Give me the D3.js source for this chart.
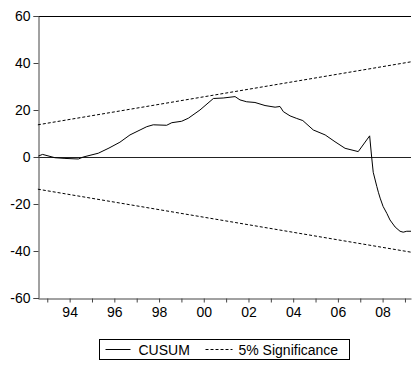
<!DOCTYPE html>
<html>
<head>
<meta charset="utf-8">
<script src="https://cdn.jsdelivr.net/npm/d3@7"></script>
<style>
  body { margin: 0; background: #fff; }
  text { font-family: "Liberation Sans", Arial, sans-serif; fill: #000; }
</style>
</head>
<body>
<svg id="chart" width="412" height="365"></svg>
<script>
// CUSUM (fractional years)
const cusumYears = [1992.60, 1992.79, 1993.34, 1993.79, 1994.39, 1994.61, 1995.28, 1995.76, 1996.25, 1996.70,
  1997.15, 1997.45, 1997.74, 1998.34, 1998.57, 1999.01, 1999.31, 1999.83, 2000.43, 2000.87,
  2001.40, 2001.62, 2001.92, 2002.29, 2002.74, 2003.19, 2003.41, 2003.56, 2003.86, 2004.16,
  2004.43, 2004.90, 2005.43, 2005.87, 2006.32, 2006.91, 2007.42, 2007.51, 2007.58, 2007.74,
  2007.81, 2007.89, 2008.02, 2008.19, 2008.33, 2008.56, 2008.78, 2008.92, 2009.08, 2009.27];
const cusumValues = [0.4, 1.1, -0.3, -0.6, -0.85, 0, 1.6, 3.8, 6.3, 9.4,
  11.5, 12.9, 13.7, 13.5, 14.6, 15.2, 16.5, 20, 24.9, 25.1,
  25.7, 24.3, 23.5, 23.2, 21.9, 21.2, 21.5, 19.3, 17.5, 16.4,
  15.5, 11.5, 9.4, 6.5, 3.7, 2.3, 9.0, 0, -6.5, -12.5,
  -15.0, -17.5, -21.0, -24.0, -26.8, -29.8, -31.6, -32.0, -31.6, -31.6];

// 5% significance bounds (start and end of sample)
const boundYears = [1992.58, 2009.27];
const upperBound = [13.7, 40.5];
const lowerBound = [-13.7, -40.5];

const yTicks = [-60, -40, -20, 0, 20, 40, 60];
const xTickYears = d3.range(1993, 2010);
const xLabelYears = [1994, 1996, 1998, 2000, 2002, 2004, 2006, 2008];

const margin = { top: 16, right: 1, bottom: 67, left: 38 };
const width = 412 - margin.left - margin.right;
const height = 365 - margin.top - margin.bottom;

const svg = d3.select("#chart");
const g = svg.append("g").attr("transform", "translate(" + margin.left + "," + margin.top + ")");

const x = d3.scaleLinear().domain([1992.585, 2009.27]).range([0, width]);
const y = d3.scaleLinear().domain([-60, 60]).range([height, 0]);

// top frame line
g.append("line")
  .attr("x1", 0).attr("x2", width)
  .attr("y1", 0.5).attr("y2", 0.5)
  .attr("stroke", "#000");

// zero line
g.append("line")
  .attr("x1", 0).attr("x2", width)
  .attr("y1", Math.round(y(0)) + 0.5).attr("y2", Math.round(y(0)) + 0.5)
  .attr("stroke", "#222");

// y axis
const yAxis = g.append("g")
  .attr("transform", "translate(0.5,0)")
  .call(d3.axisLeft(y).tickValues(yTicks).tickSize(5).tickPadding(3).tickFormat(d => String(d)));
yAxis.select(".domain").attr("stroke", "#444");
yAxis.selectAll(".tick line").attr("stroke", "#444");
yAxis.selectAll("text").style("font-size", "14px");

// x axis
const xAxis = g.append("g")
  .attr("transform", "translate(0," + (height + 0.5) + ")")
  .call(d3.axisBottom(x).tickValues(xTickYears).tickSize(4).tickSizeOuter(0).tickPadding(5)
    .tickFormat(d => xLabelYears.includes(d) ? String(d).slice(2) : ""));
xAxis.select(".domain").attr("stroke", "#444");
xAxis.selectAll(".tick line").attr("stroke", "#444");
xAxis.selectAll("text").style("font-size", "14px");

// significance bands
const bandLine = d3.line().x((d, i) => x(boundYears[i])).y(d => y(d));
[upperBound, lowerBound].forEach(b => {
  g.append("path")
    .datum(b)
    .attr("d", bandLine)
    .attr("fill", "none")
    .attr("stroke", "#000")
    .attr("stroke-width", 1)
    .attr("stroke-dasharray", "3,2");
});

// CUSUM line
const cusumLine = d3.line().x((d, i) => x(cusumYears[i])).y(d => y(d));
g.append("path")
  .datum(cusumValues)
  .attr("d", cusumLine)
  .attr("fill", "none")
  .attr("stroke", "#000")
  .attr("stroke-width", 1);

// legend
const legend = svg.append("g").attr("transform", "translate(99.5,339.5)");
legend.append("rect")
  .attr("width", 250).attr("height", 20)
  .attr("fill", "#fff").attr("stroke", "#000");
legend.append("line")
  .attr("x1", 6).attr("x2", 31).attr("y1", 10).attr("y2", 10)
  .attr("stroke", "#000");
legend.append("text").attr("x", 39).attr("y", 15).style("font-size", "14px").text("CUSUM");
legend.append("line")
  .attr("x1", 106).attr("x2", 133).attr("y1", 10).attr("y2", 10)
  .attr("stroke", "#000").attr("stroke-dasharray", "3,2");
legend.append("text").attr("x", 139).attr("y", 15).style("font-size", "14px").text("5% Significance");
</script>
</body>
</html>
